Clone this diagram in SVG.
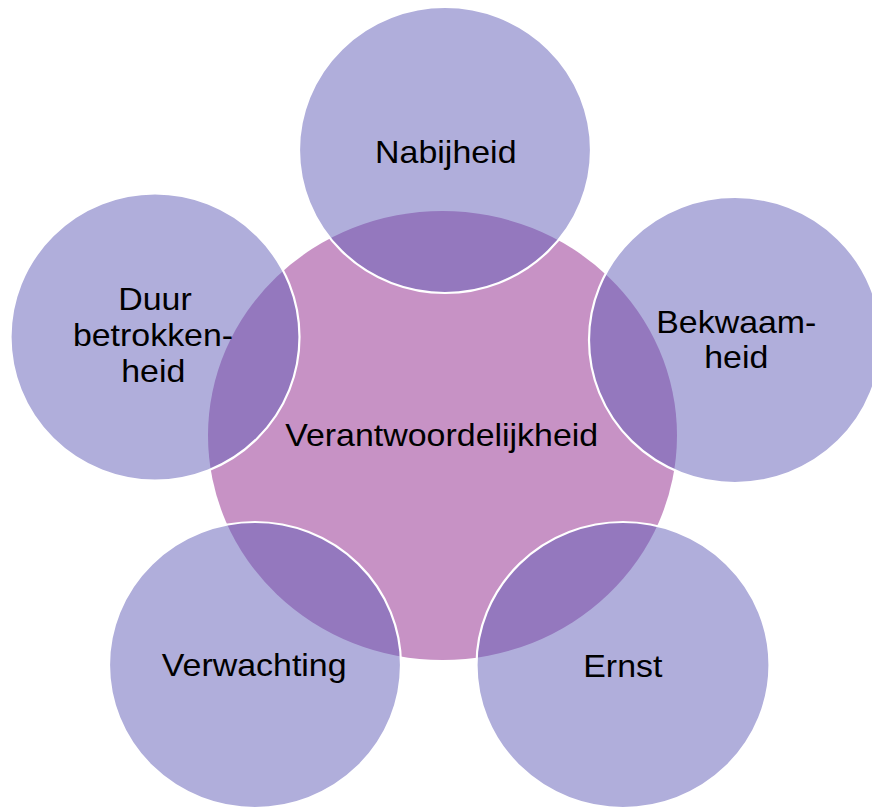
<svg xmlns="http://www.w3.org/2000/svg" width="872" height="807" viewBox="0 0 872 807">
<style>
.hub{fill:#C792C5;}
.sat{fill:#615DB8;fill-opacity:0.5;stroke:#FFFFFF;stroke-width:2.2;}
.lbl{font-family:"Liberation Sans",Arial,sans-serif;font-size:32px;fill:#000000;text-anchor:middle;}
</style>
<rect width="872" height="807" fill="#FFFFFF"/>
<g id="center">
<ellipse class="hub" cx="442.5" cy="435.5" rx="234.5" ry="224.5"/>
<text class="lbl" transform="translate(441.7,446) scale(1.06,1)">Verantwoordelijkheid</text>
</g>
<g id="nabijheid">
<ellipse class="sat" cx="445" cy="150" rx="146" ry="143"/>
<text class="lbl" transform="translate(445.8,162.7) scale(1.06,1)">Nabijheid</text>
</g>
<g id="bekwaamheid">
<ellipse class="sat" cx="735" cy="340" rx="146" ry="143"/>
<text class="lbl" transform="translate(736.3,332.7) scale(1.06,1)">Bekwaam-</text>
<text class="lbl" transform="translate(736.3,368.3) scale(1.06,1)">heid</text>
</g>
<g id="ernst">
<ellipse class="sat" cx="623" cy="665" rx="146.5" ry="143"/>
<text class="lbl" transform="translate(622.8,676.7) scale(1.06,1)">Ernst</text>
</g>
<g id="verwachting">
<ellipse class="sat" cx="255" cy="665" rx="146" ry="143"/>
<text class="lbl" transform="translate(254.2,676) scale(1.06,1)">Verwachting</text>
</g>
<g id="duur">
<ellipse class="sat" cx="155" cy="337" rx="144.5" ry="143.5"/>
<text class="lbl" transform="translate(155,310) scale(1.06,1)">Duur</text>
<text class="lbl" transform="translate(153,346) scale(1.06,1)">betrokken-</text>
<text class="lbl" transform="translate(153.3,381.7) scale(1.06,1)">heid</text>
</g>
</svg>
